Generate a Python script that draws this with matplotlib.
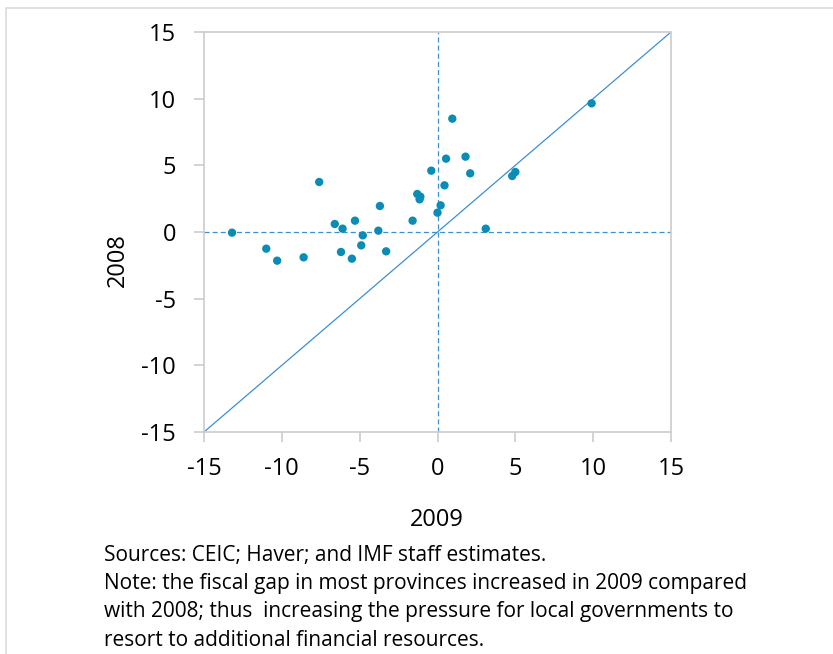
import matplotlib
matplotlib.use("Agg")
import matplotlib.pyplot as plt
from matplotlib.patches import Rectangle

# Fiscal gap by province (% of GDP)
gap_2009 = [-13.2, -11.0, -10.3, -8.6, -7.6, -6.6, -6.1, -6.2, -5.3, -5.5,
            -4.8, -4.9, -3.7, -3.8, -3.3, -1.6, -1.3, -1.1, -1.15, -0.4,
            0.0, 0.2, 0.45, 0.55, 0.95, 1.8, 2.1, 3.1, 4.8, 5.0, 9.9]
gap_2008 = [-0.05, -1.25, -2.15, -1.9, 3.75, 0.6, 0.25, -1.5, 0.85, -2.0,
            -0.25, -1.0, 1.95, 0.1, -1.45, 0.85, 2.85, 2.65, 2.45, 4.6,
            1.45, 2.0, 3.5, 5.5, 8.5, 5.65, 4.4, 0.25, 4.2, 4.5, 9.65]
axis_ticks = [-15, -10, -5, 0, 5, 10, 15]
diag = [-15, 15]
x_label = "2009"
y_label = "2008"
footnote = ["Sources: CEIC; Haver; and IMF staff estimates.",
            "Note: the fiscal gap in most provinces increased in 2009 compared",
            "with 2008; thus  increasing the pressure for local governments to",
            "resort to additional financial resources."]

W, H = 833, 654
plt.rcParams['font.family'] = ['Open Sans', 'DejaVu Sans']
fig = plt.figure(figsize=(W / 100, H / 100), dpi=100)

# outer frame
fig.patches.append(Rectangle((6 / W, -0.1), 1.2, 1 - 8 / H + 0.1, transform=fig.transFigure,
                             fill=False, edgecolor='#dcdcdc', linewidth=1.2))

ax = fig.add_axes([204 / W, 1 - 432 / H, (671 - 204) / W, (432 - 32) / H])
ax.set_xlim(-15, 15)
ax.set_ylim(-15, 15)

line_col = '#3d8fd1'
ax.axhline(0, color=line_col, linestyle=(0, (4, 2.5)), linewidth=0.9, zorder=1)
ax.axvline(0, color=line_col, linestyle=(0, (4, 2.5)), linewidth=0.9, zorder=1)
ax.plot(diag, diag, color=line_col, linewidth=0.9, zorder=2)
ax.scatter(gap_2009, gap_2008, s=36, color='#0a8cb4', edgecolors='none', zorder=3)

for s in ax.spines.values():
    s.set_color('#cccccc')
    s.set_linewidth(1.2)
ax.set_xticks(axis_ticks)
ax.set_yticks(axis_ticks)
ax.set_xticklabels([str(t) for t in axis_ticks])
ax.set_yticklabels([str(t) for t in axis_ticks])
ax.tick_params(axis='both', length=7, width=1.2, color='#cccccc', labelsize=17,
               labelcolor='black')
ax.tick_params(axis='y', pad=13)
ax.tick_params(axis='x', pad=11)

fig.text(437 / W, 1 - 520 / H, x_label, ha='center', va='center', fontsize=17)
fig.text(118 / W, 1 - 260 / H, y_label, ha='center', va='center', fontsize=17,
         rotation=90)

for i, line in enumerate(footnote):
    fig.text(104 / W, 1 - (556 + i * 28) / H, line, ha='left', va='center',
             fontsize=15)

fig.savefig("out.png", dpi=100)
